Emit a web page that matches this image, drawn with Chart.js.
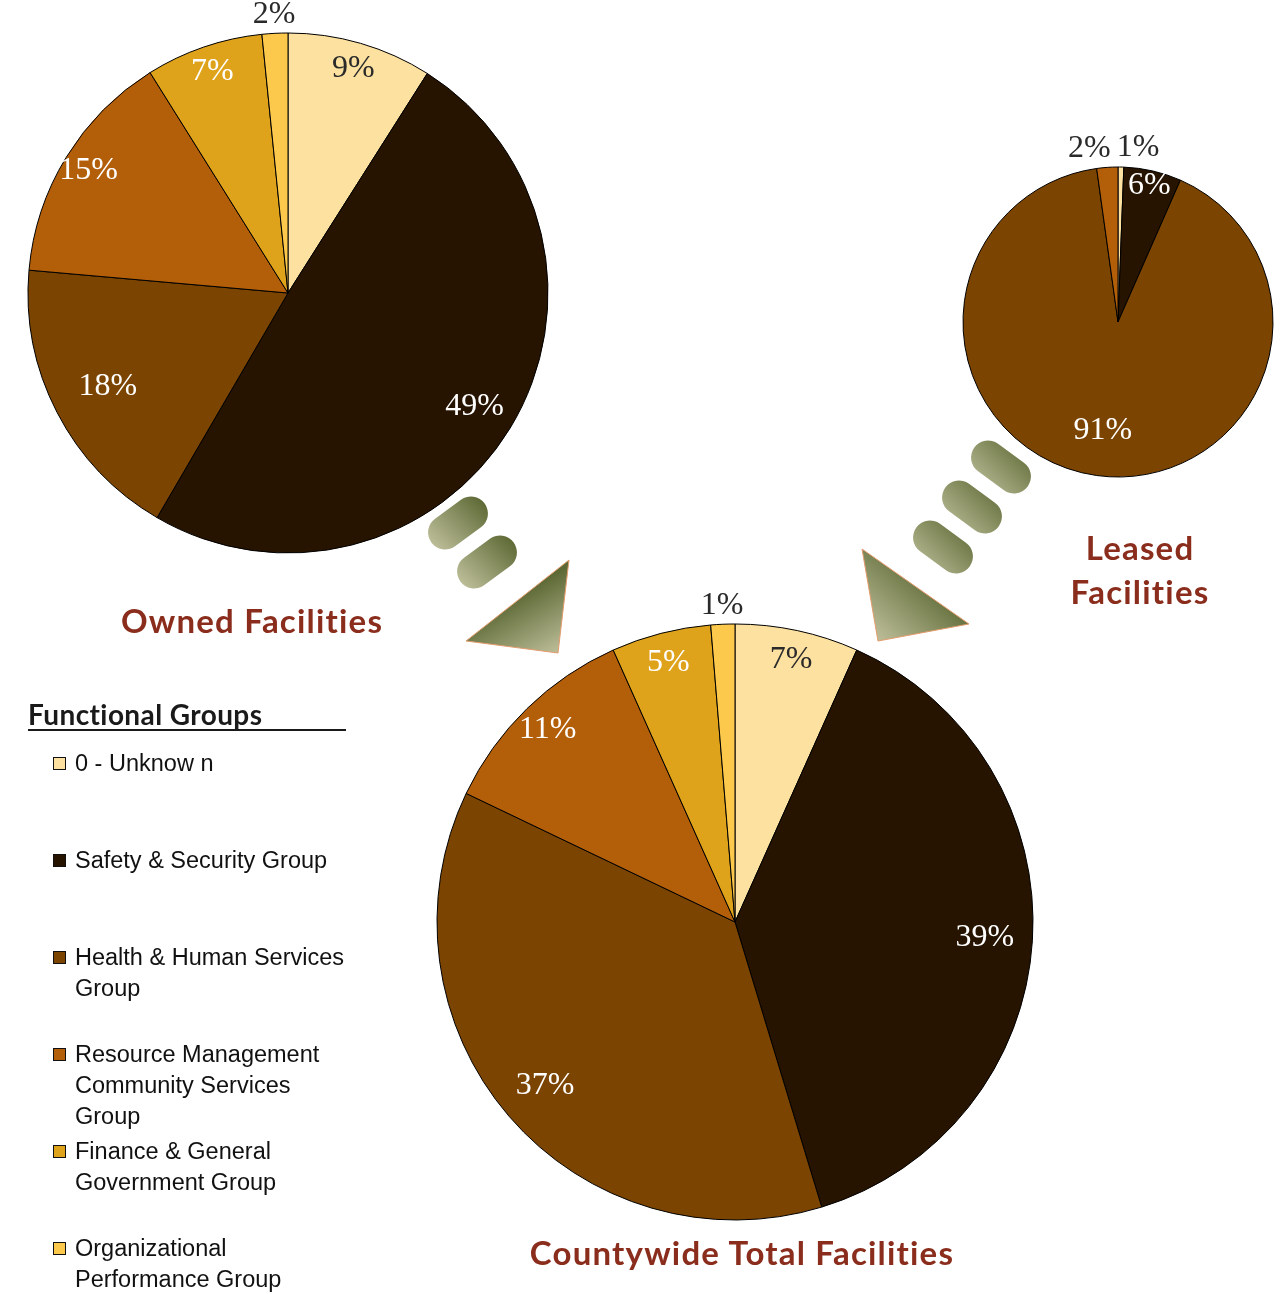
<!DOCTYPE html>
<html>
<head>
<meta charset="utf-8">
<title>Facilities by Functional Group</title>
<script src="https://cdn.jsdelivr.net/npm/chart.js@4.4.1/dist/chart.umd.min.js"></script>
<style>
  body { margin: 0; background: #fff; }
  #page { position: relative; width: 1280px; height: 1294px; overflow: hidden; background: #fff; }
  #page canvas { position: absolute; }
  .pie-title {
    position: absolute;
    font-family: Lato, "Open Sans", sans-serif;
    font-weight: 700;
    font-size: 33px;
    letter-spacing: 1.2px;
    line-height: 44px;
    color: #8a2d1c;
    text-align: center;
    white-space: nowrap;
  }
  #legendTitle {
    position: absolute; left: 28px; top: 699px; width: 318px;
    font-family: Lato, sans-serif; font-weight: 700; font-size: 28px;
    letter-spacing: 0.4px;
    line-height: 30px; color: #1a1a1a;
    border-bottom: 2px solid #1a1a1a;
  }
  .legend-item {
    position: absolute; left: 53px;
    font-family: "Liberation Sans", Arial, sans-serif; font-size: 23.5px;
    line-height: 31px; color: #111;
  }
  .legend-item .box {
    position: absolute; left: 0; top: 9px; width: 11px; height: 11px;
    border: 1.5px solid #111;
  }
  .legend-item .txt { margin-left: 22px; white-space: pre; }
</style>
</head>
<body>
<div id="page">
  <canvas id="arrows" width="1280" height="1294" style="left:0;top:0"></canvas>
  <canvas id="ownedChart" width="576" height="586" style="left:0;top:0"></canvas>
  <canvas id="leasedChart" width="324" height="400" style="left:956px;top:122px"></canvas>
  <canvas id="totalChart" width="620" height="660" style="left:425px;top:592px"></canvas>

  <div class="pie-title" style="left:52px;top:598px;width:400px">Owned Facilities</div>
  <div class="pie-title" style="left:1040px;top:525px;width:200px">Leased<br>Facilities</div>
  <div class="pie-title" style="left:442px;top:1230px;width:600px">Countywide Total Facilities</div>

  <div id="legendTitle">Functional Groups</div>
  <div id="legend"></div>
</div>

<script>
// Categories (legend order = slice order, clockwise from 12 o'clock)
const groups = [
  '0 - Unknow n',
  'Safety & Security Group',
  'Health & Human Services\nGroup',
  'Resource Management\nCommunity Services\nGroup',
  'Finance & General\nGovernment Group',
  'Organizational\nPerformance Group'
];
const groupColors = ['#fde1a0', '#261300', '#7b4401', '#b35e09', '#dea21b', '#fdc94d'];

// Share of facilities (%) per group
const ownedShare  = [9.0, 49.4, 18.0, 14.7, 7.3, 1.6];
const leasedShare = [0.6, 6.0, 91.2, 2.2, 0, 0];
const totalShare  = [6.7, 38.6, 36.8, 11.2, 5.4, 1.3];

// --- percentage labels drawn on / around each slice ---
const pctLabels = {
  id: 'pctLabels',
  afterDatasetsDraw(chart) {
    const ctx = chart.ctx;
    const meta = chart.getDatasetMeta(0);
    const values = chart.data.datasets[0].data;
    const total = values.reduce((a, b) => a + b, 0);
    const outside = [];
    ctx.save();
    ctx.font = '32px "Liberation Serif", "Times New Roman", serif';
    ctx.textAlign = 'center';
    ctx.textBaseline = 'middle';
    meta.data.forEach((arc, i) => {
      const v = values[i];
      if (!v) return;
      const pct = v / total * 100;
      const p = arc.getProps(['x', 'y', 'startAngle', 'endAngle', 'outerRadius'], true);
      const mid = (p.startAngle + p.endAngle) / 2;
      const text = Math.round(pct) + '%';
      if (pct < 3) {
        // tiny slices get their label just outside the rim
        const r = p.outerRadius + 19;
        outside.push({ text, x: p.x + Math.cos(mid) * r, y: p.y + Math.sin(mid) * r, w: ctx.measureText(text).width });
        return;
      }
      const f = pct > 60 ? 0.71 : pct > 30 ? 0.84 : pct >= 15 ? 0.78 : 0.9;
      ctx.fillStyle = i === 0 ? '#2a2a2a' : '#ffffff';
      ctx.fillText(text, p.x + Math.cos(mid) * p.outerRadius * f, p.y + Math.sin(mid) * p.outerRadius * f);
    });
    // push overlapping outside labels apart
    outside.sort((a, b) => a.x - b.x);
    for (let k = 1; k < outside.length; k++) {
      const a = outside[k - 1], b = outside[k];
      const overlap = (a.w + b.w) / 2 + 6 - (b.x - a.x);
      if (overlap > 0) { a.x -= overlap / 2; b.x += overlap / 2; }
    }
    ctx.fillStyle = '#2a2a2a';
    outside.forEach(o => ctx.fillText(o.text, o.x, o.y));
    ctx.restore();
  }
};

function makePie(canvasId, values, radius) {
  return new Chart(document.getElementById(canvasId), {
    type: 'pie',
    data: {
      labels: groups,
      datasets: [{
        data: values,
        backgroundColor: groupColors,
        borderColor: '#000',
        borderWidth: 1,
        radius: radius
      }]
    },
    options: {
      responsive: false,
      animation: false,
      events: [],
      layout: { padding: 0 },
      plugins: { legend: { display: false }, tooltip: { enabled: false } }
    },
    plugins: [pctLabels]
  });
}

makePie('ownedChart', ownedShare, 260);
makePie('leasedChart', leasedShare, 155);
makePie('totalChart', totalShare, 298);

// --- HTML legend ---
const legendEl = document.getElementById('legend');
legendEl.innerHTML = groups.map((g, i) =>
  `<div class="legend-item" style="top:${748 + i * 97}px"><span class="box" style="background:${groupColors[i]}"></span><div class="txt">${g.replace(/&/g, '&amp;')}</div></div>`
).join('');

// --- decorative olive "flow" arrows between the pies ---
const actx = document.getElementById('arrows').getContext('2d');

function oliveGradient(x1, y1, x2, y2) {
  const g = actx.createLinearGradient(x1, y1, x2, y2);
  g.addColorStop(0, '#bdbe99');
  g.addColorStop(1, '#5d6935');
  return g;
}

function capsule(cx, cy, len, thick, ang) {
  const a = ang * Math.PI / 180;
  const half = (len - thick) / 2;
  const dx = Math.cos(a) * half, dy = Math.sin(a) * half;
  actx.beginPath();
  actx.arc(cx + dx, cy + dy, thick / 2, a - Math.PI / 2, a + Math.PI / 2);
  actx.arc(cx - dx, cy - dy, thick / 2, a + Math.PI / 2, a + Math.PI * 1.5);
  actx.closePath();
  actx.fillStyle = oliveGradient(cx - 24, cy + 24, cx + 24, cy - 24);
  actx.fill();
}

function triangle(pts, light, dark) {
  actx.beginPath();
  actx.moveTo(pts[0][0], pts[0][1]);
  actx.lineTo(pts[1][0], pts[1][1]);
  actx.lineTo(pts[2][0], pts[2][1]);
  actx.closePath();
  actx.fillStyle = oliveGradient(light[0], light[1], dark[0], dark[1]);
  actx.fill();
  actx.strokeStyle = '#e39b6c';
  actx.lineWidth = 1;
  actx.stroke();
}

// owned -> total
capsule(458, 523, 66, 34, -36);
capsule(487, 562, 66, 34, -36);
triangle([[569, 560], [466, 641], [558, 653]], [560, 652], [525, 590]);

// leased -> total
capsule(1001, 467, 66, 34, 36);
capsule(972, 507, 66, 34, 36);
capsule(943, 547, 66, 34, 36);
triangle([[862, 549], [878, 641], [969, 624]], [878, 641], [935, 578]);
</script>
</body>
</html>
